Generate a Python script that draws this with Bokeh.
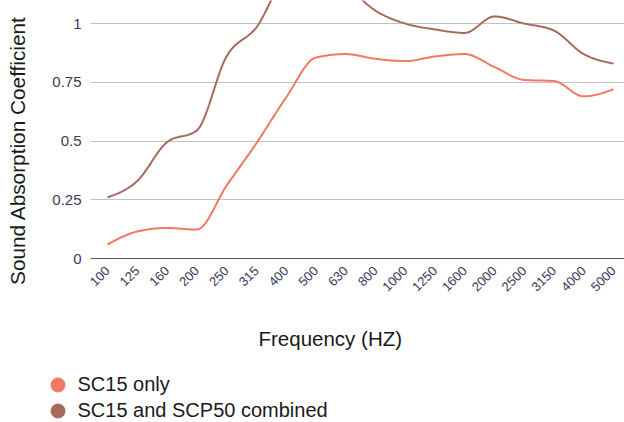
import math
from bokeh.plotting import figure
from bokeh.layouts import row, column
from bokeh.models import (Range1d, FixedTicker, Label, Legend, LegendItem)
from bokeh.embed import file_html
from bokeh.resources import INLINE

freqs = ["100", "125", "160", "200", "250", "315", "400", "500", "630", "800",
         "1000", "1250", "1600", "2000", "2500", "3150", "4000", "5000"]
sc15_only = [0.06, 0.115, 0.13, 0.123, 0.31, 0.49, 0.685, 0.855, 0.87, 0.85,
             0.84, 0.86, 0.87, 0.815, 0.76, 0.755, 0.69, 0.72]
sc15_scp50 = [0.26, 0.33, 0.495, 0.545, 0.86, 0.983, 1.19, 1.22, 1.16, 1.055,
              1.0, 0.975, 0.96, 1.03, 1.0, 0.97, 0.87, 0.83]
y_ticks = [0, 0.25, 0.5, 0.75, 1]
y_tick_labels = ["0", "0.25", "0.5", "0.75", "1"]
series_names = ["SC15 only", "SC15 and SCP50 combined"]
x_title = "Frequency (HZ)"
y_title = "Sound Absorption Coefficient"

COL_A = "#f07a61"
COL_B = "#a8695d"
FONT = "Liberation Sans"
TXT = "#1a1a1a"
TICK = "#3c3a5c"


def monotone_curve(ys, n=24):
    """Monotone cubic (like d3 curveMonotoneX) drawing path through the points."""
    xs = list(range(len(ys)))
    m = len(ys)
    d = [(ys[i + 1] - ys[i]) for i in range(m - 1)]
    t = [0.0] * m
    for i in range(1, m - 1):
        s0, s1 = d[i - 1], d[i]
        if s0 * s1 <= 0:
            t[i] = 0.0
        else:
            sgn = 1 if s0 > 0 else -1
            t[i] = sgn * min(2 * abs(s0), 2 * abs(s1), abs((s0 + s1) / 2))
    t[0] = (3 * d[0] - t[1]) / 2
    t[-1] = (3 * d[-1] - t[-2]) / 2
    px, py = [], []
    for i in range(m - 1):
        for k in range(n):
            u = k / n
            h00 = 2 * u**3 - 3 * u**2 + 1
            h10 = u**3 - 2 * u**2 + u
            h01 = -2 * u**3 + 3 * u**2
            h11 = u**3 - u**2
            px.append(xs[i] + u)
            py.append(h00 * ys[i] + h10 * t[i] + h01 * ys[i + 1] + h11 * t[i + 1])
    px.append(xs[-1])
    py.append(ys[-1])
    return px, py


CHART_H = 300
BOTTOM_H = 422 - CHART_H

# --- main chart (frame spans full chart height; x axis pinned at y = 0) ---
p = figure(width=624, height=CHART_H, output_backend="svg", toolbar_location=None,
           x_range=Range1d(-0.571, 17.37), y_range=Range1d(-0.1787, 1.098),
           min_border_left=90, min_border_right=0, min_border_top=0,
           min_border_bottom=0)
p.outline_line_color = None
p.background_fill_color = "white"
p.xgrid.visible = False
p.ygrid.grid_line_color = "#c2c1c8"
p.ygrid.grid_line_width = 1
p.ygrid.ticker = FixedTicker(ticks=y_ticks)

ax, ay = p.xaxis[0], p.yaxis[0]
ay.ticker = FixedTicker(ticks=y_ticks)
ay.major_label_overrides = {v: s for v, s in zip(y_ticks, y_tick_labels)}
ay.axis_line_color = None
ay.major_tick_line_color = None
ay.major_tick_out = 0
ay.major_tick_in = 0
ay.minor_tick_line_color = None
ay.minor_tick_out = 0
ay.major_label_standoff = 9
ay.major_label_text_font = FONT
ay.major_label_text_font_size = "15px"
ay.major_label_text_color = TICK
ay.axis_label = y_title
ay.axis_label_standoff = 20
ay.axis_label_text_font = FONT
ay.axis_label_text_font_size = "20.8px"
ay.axis_label_text_font_style = "normal"
ay.axis_label_text_color = TXT

ax.fixed_location = 0
ax.ticker = FixedTicker(ticks=list(range(len(freqs))))
ax.major_label_overrides = {i: f for i, f in enumerate(freqs)}
ax.major_label_orientation = math.pi / 4
ax.axis_line_color = "#55536e"
ax.axis_line_width = 1
ax.major_tick_line_color = None
ax.major_tick_out = 0
ax.major_tick_in = 0
ax.minor_tick_line_color = None
ax.minor_tick_out = 0
ax.major_label_standoff = 10
ax.major_label_text_font = FONT
ax.major_label_text_font_size = "13px"
ax.major_label_text_color = TICK

xa, ya = monotone_curve(sc15_only)
xb, yb = monotone_curve(sc15_scp50)
p.line(x=xa, y=ya, line_color=COL_A, line_width=2)
p.line(x=xb, y=yb, line_color=COL_B, line_width=2)

# --- bottom strip: x axis title and legend ---
bottom = figure(width=624, height=BOTTOM_H, output_backend="svg", toolbar_location=None,
                x_range=Range1d(0, 624), y_range=Range1d(BOTTOM_H, 0),
                x_axis_type=None, y_axis_type=None,
                min_border_left=0, min_border_right=0, min_border_top=0, min_border_bottom=0)
bottom.outline_line_color = None
bottom.grid.visible = False
bottom.add_layout(Label(x=258, y=338 - CHART_H, text=x_title,
                        text_align="left", text_baseline="middle",
                        text_font=FONT, text_font_size="20.5px", text_color=TXT))

idx = list(range(len(freqs)))
la = bottom.scatter(x=idx, y=sc15_only, size=14, fill_color=COL_A, line_color=COL_A,
                    visible=False)
lb = bottom.scatter(x=idx, y=sc15_scp50, size=14, fill_color=COL_B, line_color=COL_B,
                    visible=False)


def make_legend(name, rend, vy):
    return Legend(items=[LegendItem(label=name, renderers=[rend])],
                  location=(39.5, vy), orientation="vertical",
                  glyph_width=35, glyph_height=35, spacing=0, padding=0, margin=0,
                  label_standoff=3, border_line_color=None, background_fill_alpha=0,
                  inactive_fill_alpha=0,
                  label_text_font=FONT, label_text_font_size="20px",
                  label_text_color=TXT)


bottom.add_layout(make_legend(series_names[0], la, BOTTOM_H - (384 - CHART_H) - 17.5), "center")
bottom.add_layout(make_legend(series_names[1], lb, BOTTOM_H - (410 - CHART_H) - 17.5), "center")

layout = column(row(p), bottom)
open("out.html", "w").write(file_html(layout, INLINE))
